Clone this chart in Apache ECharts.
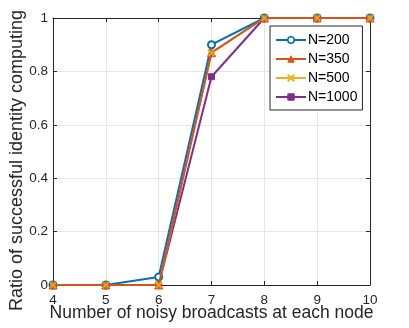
<!DOCTYPE html>
<html><head><meta charset="utf-8">
<script src="https://cdn.jsdelivr.net/npm/echarts@6/dist/echarts.min.js"></script>
<style>html,body{margin:0;padding:0;background:#fff}#c{width:409px;height:328px}</style>
</head><body><div id="c"></div>
<script>
const xValues = [4, 5, 6, 7, 8, 9, 10];
const n200 = [0, 0, 0.03, 0.90, 1, 1, 1];
const n350 = [0, 0, 0, 0.87, 1, 1, 1];
const n500 = [0, 0, 0, 0.87, 1, 1, 1];
const n1000 = [0, 0, 0, 0.78, 1, 1, 1];
const seriesNames = ['N=200', 'N=350', 'N=500', 'N=1000'];
const xTitle = 'Number of noisy broadcasts at each node';
const yTitle = 'Ratio of successful identity computing';

const colors = ['#0072BD', '#D95319', '#EDB120', '#7E2F8E'];
const xPath = 'path://M0,0L10,10M10,0L0,10';
const symbols = ['circle', 'triangle', xPath, 'rect'];
const symSizes = [7, 8, 7, 6];
const zs = [4, 5, 3, 2];
const datas = [n200, n350, n500, n1000];
const font = 'Liberation Sans, Arial, sans-serif';
const axisCol = '#262626';

const chart = echarts.init(document.getElementById('c'), null, {renderer: 'canvas'});
const series = datas.map((d, i) => ({
  name: seriesNames[i],
  type: 'line',
  data: d.map((v, j) => [xValues[j], v]),
  symbol: symbols[i],
  symbolSize: symSizes[i],
  showAllSymbol: true,
  lineStyle: {color: colors[i], width: 2},
  itemStyle: i === 0 ? {color: '#ffffff', borderColor: colors[0], borderWidth: 2}
           : i === 2 ? {color: colors[2], borderColor: colors[2], borderWidth: 2}
           : {color: colors[i], borderColor: colors[i], borderWidth: 1},
  z: zs[i],
  animation: false
}));
series.push({
  name: 'N=500 markers',
  type: 'scatter',
  data: n500.map((v, j) => [xValues[j], v]),
  symbol: xPath, symbolSize: 6,
  itemStyle: {color: colors[2], borderColor: colors[2], borderWidth: 2},
  z: 6, silent: true, animation: false
});

chart.setOption({
  backgroundColor: '#fff',
  animation: false,
  grid: {left: 53, right: 39, top: 18, bottom: 43, containLabel: false, outerBoundsMode: 'none'},
  legend: {
    orient: 'vertical',
    left: 270, top: 26,
    padding: [7, 5, 6, 5],
    itemGap: 5,
    itemWidth: 30, itemHeight: 8,
    backgroundColor: '#fff',
    borderColor: axisCol, borderWidth: 1,
    textStyle: {fontFamily: font, fontSize: 14, color: '#000', padding: [0, 0, 0, -3]},
    data: seriesNames.map((n, i) => ({
      name: n,
      itemStyle: i === 0 ? {color: '#ffffff', borderColor: colors[0], borderWidth: 1.5}
               : {color: colors[i], borderColor: colors[i], borderWidth: i === 2 ? 2 : 1}
    }))
  },
  xAxis: [{
    type: 'value', min: 4, max: 10, interval: 1,
    name: xTitle, nameLocation: 'middle', nameGap: 19, nameMoveOverlap: false,
    nameTextStyle: {fontFamily: font, fontSize: 17.5, color: '#262626'},
    axisLine: {show: true, onZero: false, lineStyle: {color: axisCol, width: 1}},
    axisTick: {show: true, inside: true, length: 4, lineStyle: {color: axisCol}},
    axisLabel: {fontFamily: font, fontSize: 13.5, color: '#262626', margin: 8},
    splitLine: {show: true, lineStyle: {color: '#e5e5e5', width: 1}}
  }, {
    type: 'value', min: 4, max: 10, interval: 1, position: 'top',
    axisLine: {show: true, onZero: false, lineStyle: {color: axisCol, width: 1}},
    axisTick: {show: true, inside: true, length: 4, lineStyle: {color: axisCol}},
    axisLabel: {show: false}, splitLine: {show: false}
  }],
  yAxis: [{
    type: 'value', min: 0, max: 1, interval: 0.2,
    name: yTitle, nameLocation: 'middle', nameGap: 27, nameMoveOverlap: false,
    nameTextStyle: {fontFamily: font, fontSize: 18, color: '#262626', padding: [0, 18, 0, 0]},
    axisLine: {show: true, onZero: false, lineStyle: {color: axisCol, width: 1}},
    axisTick: {show: true, inside: true, length: 4, lineStyle: {color: axisCol}},
    axisLabel: {fontFamily: font, fontSize: 13.5, color: '#262626', margin: 5},
    splitLine: {show: true, lineStyle: {color: '#e5e5e5', width: 1}}
  }, {
    type: 'value', min: 0, max: 1, interval: 0.2, position: 'right',
    axisLine: {show: true, onZero: false, lineStyle: {color: axisCol, width: 1}},
    axisTick: {show: true, inside: true, length: 4, lineStyle: {color: axisCol}},
    axisLabel: {show: false}, splitLine: {show: false}
  }],
  series: series
});
</script></body></html>
